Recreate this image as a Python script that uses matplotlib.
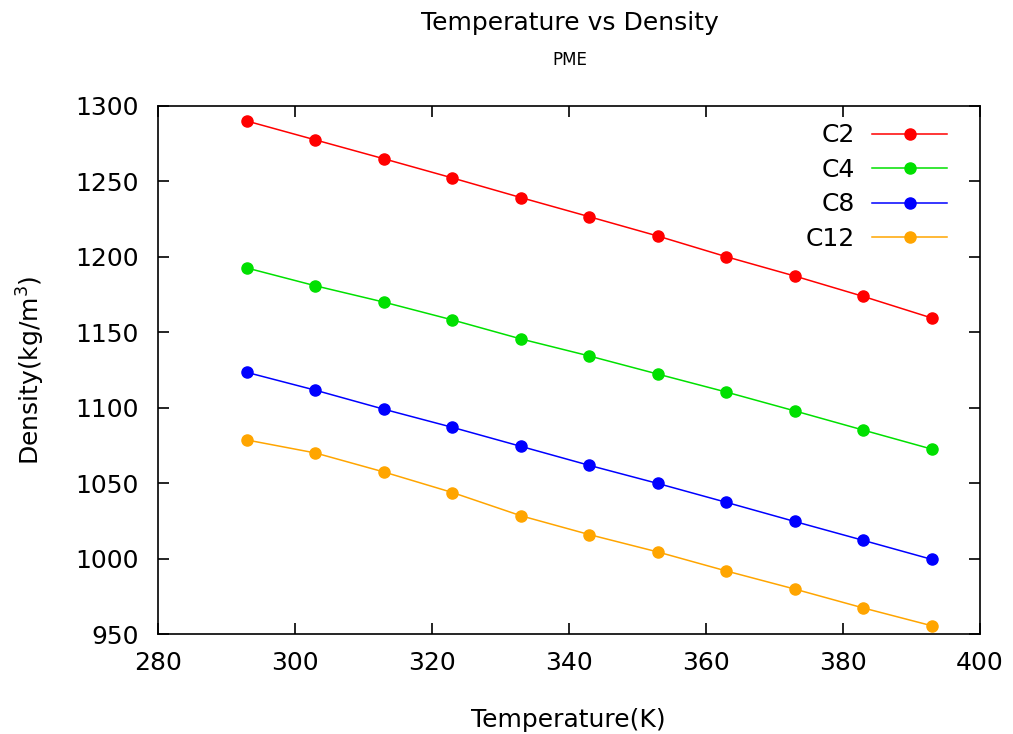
import numpy as np
import matplotlib.pyplot as plt

temp = [293, 303, 313, 323, 333, 343, 353, 363, 373, 383, 393]
c2 = [1290.0, 1277.5, 1265.0, 1252.3, 1239.3, 1226.6, 1213.8, 1200.1, 1187.3, 1173.8, 1159.5]
c4 = [1192.6, 1180.8, 1170.0, 1158.2, 1145.6, 1134.3, 1122.3, 1110.4, 1097.9, 1085.2, 1072.6]
c8 = [1123.4, 1111.6, 1099.0, 1087.0, 1074.4, 1061.8, 1049.8, 1037.3, 1024.6, 1012.1, 999.5]
c12 = [1078.6, 1070.0, 1057.4, 1043.8, 1028.4, 1015.9, 1004.4, 991.8, 979.8, 967.3, 955.5]

series = [("C2", c2, "#ff0000"), ("C4", c4, "#00e000"),
          ("C8", c8, "#0000ff"), ("C12", c12, "#ffa500")]

fig = plt.figure(figsize=(10.13, 7.34), dpi=100)
ax = fig.add_axes([0.156, 0.1362, 0.811, 0.7194])

for name, vals, col in series:
    ax.plot(temp, vals, color=col, marker="o", markersize=8, linewidth=1.1, label=name)

ax.set_xlim(280, 400)
ax.set_ylim(950, 1300)
ax.set_xticks(np.arange(280, 401, 20))
ax.set_yticks(np.arange(950, 1301, 50))
ax.tick_params(direction="in", top=True, right=True, length=8, width=1.2,
               labelsize=18)
ax.tick_params(axis="y", pad=14)
ax.tick_params(axis="x", pad=12)
for s in ax.spines.values():
    s.set_linewidth(1.2)

ax.set_xlabel("Temperature(K)", fontsize=18, labelpad=24)
ax.set_ylabel("Density(kg/m$^3$)", fontsize=18, labelpad=20)
fig.text(0.5625, 0.968, "Temperature vs Density", ha="center", va="center", fontsize=18)
fig.text(0.5625, 0.918, "PME", ha="center", va="center", fontsize=12)

ax.legend(loc="upper right", frameon=False, markerfirst=False, fontsize=18,
          handlelength=3.0, handletextpad=0.7, labelspacing=0.42,
          borderaxespad=0.4, bbox_to_anchor=(0.985, 1.005))

fig.savefig("out.png", dpi=100)
